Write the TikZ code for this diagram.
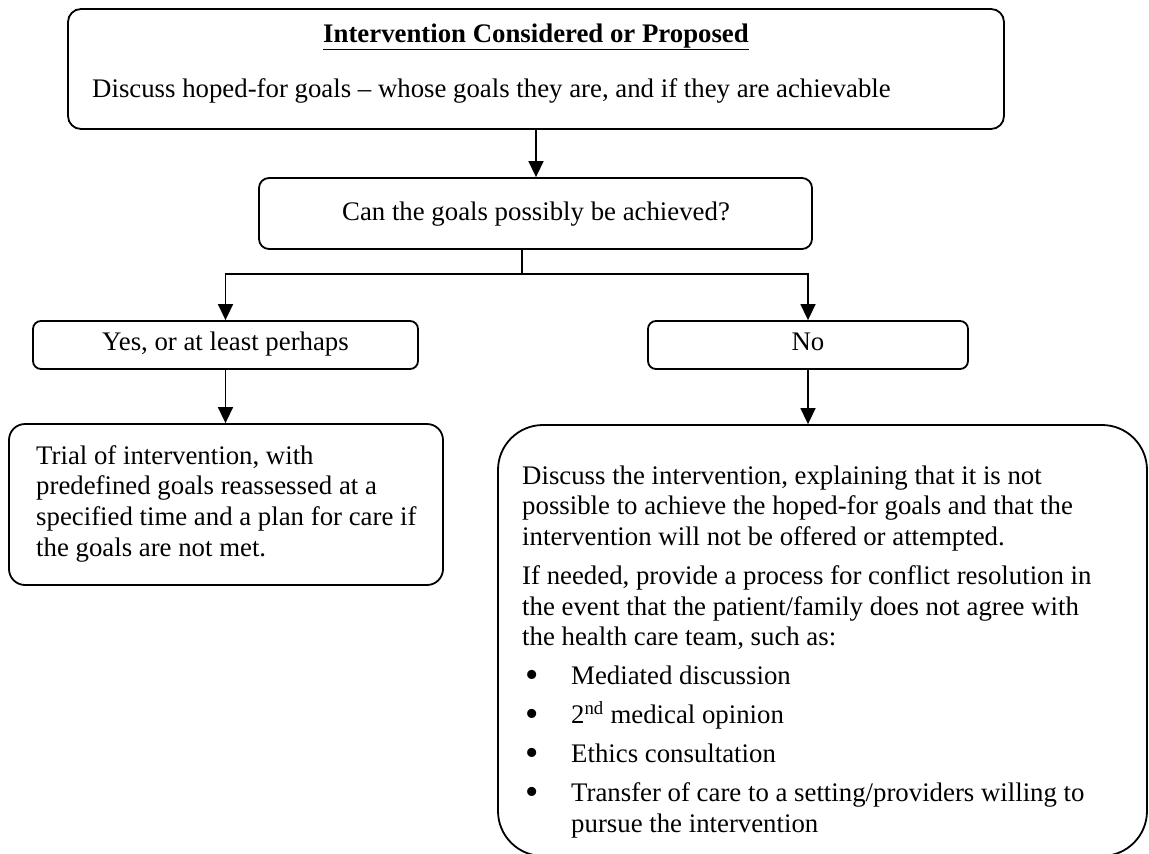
\documentclass[tikz,border=0pt]{standalone}
\usepackage{fontspec}
\setmainfont{Liberation Serif}
\usetikzlibrary{arrows.meta}
\newcommand{\bulmark}{\makebox[49pt][l]{\hspace{3pt}\raisebox{-2.2pt}{\fontsize{38}{30}\selectfont\textbullet}}}
\begin{document}
\begin{tikzpicture}[x=1pt,y=-1pt,
  box/.style={draw, line width=1.8pt, inner sep=0pt, fill=white},
  txt/.style={inner sep=0pt, anchor=base west, font=\fontsize{26.8}{30.7}\selectfont},
  arr/.style={line width=1.5pt, -{Triangle[width=15pt,length=16pt]}},
  ln/.style={line width=1.5pt}]
\useasboundingbox (0,0) rectangle (1149,854);
\clip (0,0) rectangle (1149,854);
\fill[white] (0,0) rectangle (1149,854);
% boxes
\node[box, rounded corners=13pt, minimum width=936pt, minimum height=120pt] (top) at (536,69) {};
\node[box, rounded corners=10pt, minimum width=553pt, minimum height=71pt] (q) at (535.5,213.5) {};
\node[box, rounded corners=8pt, minimum width=385pt, minimum height=48pt] (yes) at (225.5,345) {};
\node[box, rounded corners=8pt, minimum width=320pt, minimum height=48pt] (no) at (808,345) {};
\node[box, rounded corners=16pt, minimum width=434pt, minimum height=161pt] (trial) at (226,504.5) {};
\node[box, rounded corners=45pt, minimum width=649pt, minimum height=431pt] (big) at (822.5,640.5) {};
% texts
\node[txt, anchor=base, font=\fontsize{26.8}{30.7}\selectfont\bfseries] (title) at (536,42) {\underline{Intervention Considered or Proposed}};
\node[txt] (goals) at (92,97) {Discuss hoped-for goals – whose goals they are, and if they are achievable};
\node[txt, anchor=base] (qt) at (536,220) {Can the goals possibly be achieved?};
\node[txt, anchor=base] (yt) at (225.5,350) {Yes, or at least perhaps};
\node[txt, anchor=base] (nt) at (808,350) {No};
\node[txt] (tt) at (36,464) {\parbox[t]{400pt}{\raggedright Trial of intervention, with\\predefined goals reassessed at a\\specified time and a plan for care if\\the goals are not met.}};
\node[txt] (bt) at (522,484) {\parbox[t]{610pt}{\raggedright\setlength{\parskip}{8.3pt}%
Discuss the intervention, explaining that it is not\\possible to achieve the hoped-for goals and that the\\intervention will not be offered or attempted.\par
If needed, provide a process for conflict resolution in\\the event that the patient/family does not agree with\\the health care team, such as:\par
\bulmark Mediated discussion\par
\bulmark 2\textsuperscript{nd} medical opinion\par
\bulmark Ethics consultation\par
\bulmark Transfer of care to a setting/providers willing to\\\hspace*{49pt}pursue the intervention}};
% connectors
\coordinate (split) at (522,274);
\draw[arr] (top.south) -- (top.south |- q.north);
\draw[ln] (q.south -| split) -- (split);
\draw[arr] (split) -| (yes.north);
\draw[arr] (split) -| (no.north);
\draw[arr] (yes.south) -- (yes.south |- trial.north);
\draw[arr] (no.south) -- (no.south |- big.north);
\end{tikzpicture}
\end{document}
